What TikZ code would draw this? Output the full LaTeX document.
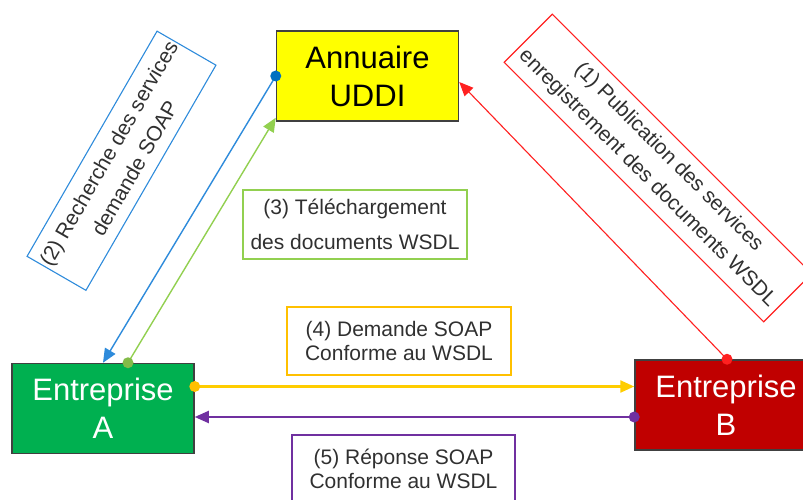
\documentclass[tikz,border=0pt]{standalone}
\usepackage{fontspec}
\setmainfont{Liberation Sans}
\usetikzlibrary{arrows.meta,calc}
\definecolor{cyel}{HTML}{FFFF00}
\definecolor{cgreen}{HTML}{00B050}
\definecolor{cdred}{HTML}{C00000}
\definecolor{cblue}{HTML}{2E8BDB}
\definecolor{cdblue}{HTML}{0070C0}
\definecolor{clgreen}{HTML}{92D050}
\definecolor{cred}{HTML}{FF2020}
\definecolor{corange}{HTML}{FFC000}
\definecolor{cpurple}{HTML}{7030A0}
\definecolor{ctext}{HTML}{303030}
\tikzset{
  mainbox/.style={draw=black!75, line width=1.5pt, minimum width=182pt, minimum height=90pt,
    align=center, inner sep=0pt, font=\fontsize{31}{38}\selectfont},
  lblbox/.style={draw=#1, line width=1.1pt, minimum height=68pt, inner sep=0pt,
    align=center, text=ctext, font=\fontsize{21}{24}\selectfont},
  rotlbl/.style={font=\fontsize{21}{30}\selectfont},
  tipstyle/.style={-{Triangle[length=14pt,width=12pt]}}
}
\begin{document}
\begin{tikzpicture}[x=1pt,y=-1pt]
\useasboundingbox (0,0) rectangle (803,500);

% main boxes
\node[mainbox, fill=cyel, text=black] (ann) at (367.5,76) {Annuaire\\UDDI};
\node[mainbox, fill=cgreen, text=white] (A) at (103,408.5) {Entreprise\\A};
\node[mainbox, fill=cdred, text=white] (B) at (726,405) {Entreprise\\B};

% labels
\node[lblbox=cblue, rotlbl, minimum width=260pt, rotate=60] (l2) at (121.5,160.75)
  {(2) Recherche des services\\demande SOAP};
\node[lblbox=cred, rotlbl, minimum width=367pt, rotate=-45] (l1) at (658,168)
  {(1) Publication des services\\enregistrement des documents WSDL};
\node[lblbox=clgreen, minimum width=224pt, minimum height=69pt,
  font=\fontsize{21}{35}\selectfont] (l3) at (355,224.5)
  {(3) Téléchargement\\des documents WSDL};
\node[lblbox=corange, minimum width=224pt] (l4) at (399,341)
  {(4) Demande SOAP\\Conforme au WSDL};
\node[lblbox=cpurple, minimum width=223pt] (l5) at (403.5,469)
  {(5) Réponse SOAP\\Conforme au WSDL};

% connector end points
\coordinate (bS) at (ann.west);
\coordinate (bE) at (A.north);
\coordinate (gS) at ([xshift=25pt]A.north);
\coordinate (gE) at ([yshift=4pt]ann.south west);
\coordinate (rS) at ([xshift=1pt]B.north);
\coordinate (rE) at ([yshift=-6pt]ann.east);
\coordinate (yS) at ([yshift=22pt]A.east);
\coordinate (yE) at (yS -| B.west);
\coordinate (pS) at ([yshift=-12pt]B.west);
\coordinate (pE) at (pS -| A.east);

% connectors
\draw[tipstyle, cblue, line width=1.4pt] (bS) -- (bE);
\draw[tipstyle, clgreen, line width=1.4pt] (gS) -- (gE);
\draw[tipstyle, cred, line width=1.1pt] (rS) -- (rE);
\draw[tipstyle, corange!80!yellow, line width=2.4pt] (yS) -- (yE);
\draw[tipstyle, cpurple, line width=2pt] (pS) -- (pE);

% dots
\fill[cdblue] (bS) circle (5.5pt);
\fill[clgreen!90!black] (gS) circle (5.5pt);
\fill[cred] (rS) circle (5.5pt);
\fill[corange] (yS) circle (5.5pt);
\fill[cpurple] (pS) circle (5.5pt);
\end{tikzpicture}
\end{document}
